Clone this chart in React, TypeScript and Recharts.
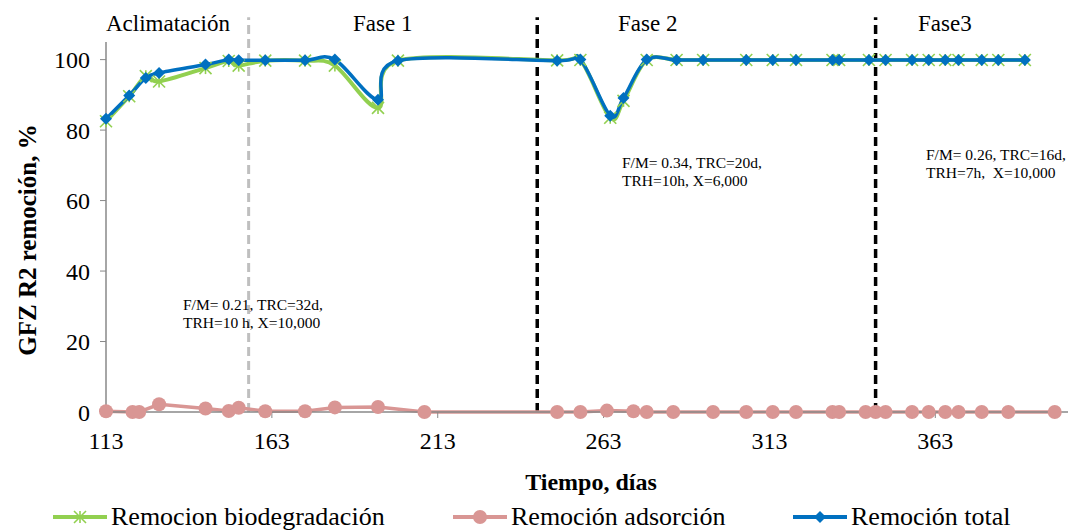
import { LineChart, Line, XAxis, YAxis, ReferenceLine } from "recharts";

// días y % de remoción
const totalDays = [113, 120, 125, 129, 143, 150, 153, 161, 173, 182, 195, 201, 249, 256, 265, 269, 276, 285, 293, 306, 314, 321, 332, 334, 343, 348, 356, 361, 366, 370, 377, 382, 390];
const totalValues = [83.2, 89.8, 94.8, 96.2, 98.6, 100, 99.8, 99.8, 99.8, 100, 88.6, 99.7, 99.7, 100, 84.1, 89.1, 100, 99.9, 99.9, 99.9, 99.9, 99.9, 99.9, 99.9, 99.9, 99.9, 99.9, 99.9, 99.9, 99.9, 99.9, 99.9, 99.9];
const bioValues = [82.5, 89.6, 95.3, 93.8, 97.6, 99.6, 98.3, 99.7, 99.7, 98.3, 86.3, 99.7, 99.8, 99.9, 83.5, 88.3, 99.9, 99.9, 99.9, 99.9, 99.9, 99.9, 99.9, 99.9, 99.9, 99.9, 99.9, 99.9, 99.9, 99.9, 99.9, 99.9, 99.9];
const adsDays = [113, 121, 123, 129, 143, 150, 153, 161, 173, 182, 195, 209, 249, 256, 264, 272, 276, 284, 296, 306, 314, 321, 332, 334, 342, 345, 348, 356, 361, 366, 370, 377, 385, 399];
const adsValues = [0.2, 0, 0, 2.2, 1.0, 0.3, 1.2, 0.2, 0.2, 1.3, 1.4, 0, 0, 0, 0.4, 0.2, 0, 0, 0, 0, 0, 0, 0, 0, 0, 0, 0, 0, 0, 0, 0, 0, 0, 0];

const xTicks = [113, 163, 213, 263, 313, 363];
const yTicks = [0, 20, 40, 60, 80, 100];
const phaseLineDays = [156, 243, 345];

const FONT = '"Liberation Serif", "Times New Roman", serif';
const GREEN = "#92D050";
const PINK = "#D99694";
const BLUE = "#0070C0";

const toPoints = (xs: number[], ys: number[]) => xs.map((x, i) => ({ x, y: ys[i] }));

// suavizado tipo Excel (Catmull-Rom)
const smoothCurve = (context: any) => {
  let pts: [number, number][] = [];
  return {
    areaStart() {},
    areaEnd() {},
    lineStart() {
      pts = [];
    },
    lineEnd() {
      const n = pts.length;
      if (!n) return;
      context.moveTo(pts[0][0], pts[0][1]);
      for (let i = 0; i < n - 1; i++) {
        const p0 = pts[Math.max(0, i - 1)];
        const p1 = pts[i];
        const p2 = pts[i + 1];
        const p3 = pts[Math.min(n - 1, i + 2)];
        context.bezierCurveTo(
          p1[0] + (p2[0] - p0[0]) / 6,
          p1[1] + (p2[1] - p0[1]) / 6,
          p2[0] - (p3[0] - p1[0]) / 6,
          p2[1] - (p3[1] - p1[1]) / 6,
          p2[0],
          p2[1]
        );
      }
    },
    point(x: number, y: number) {
      pts.push([x, y]);
    },
  };
};

const Diamond = (props: any) => {
  const { cx, cy, index } = props;
  const s = 6;
  return <path key={`dm-${index}`} d={`M${cx},${cy - s}L${cx + s},${cy}L${cx},${cy + s}L${cx - s},${cy}Z`} fill={BLUE} />;
};

const Star = (props: any) => {
  const { cx, cy, index } = props;
  const s = 6;
  return (
    <g key={`st-${index}`} stroke={GREEN} strokeWidth={1.6}>
      <line x1={cx - s} y1={cy - s} x2={cx + s} y2={cy + s} />
      <line x1={cx - s} y1={cy + s} x2={cx + s} y2={cy - s} />
      <line x1={cx} y1={cy - s} x2={cx} y2={cy + s} />
    </g>
  );
};

const Dot = (props: any) => {
  const { cx, cy, index } = props;
  return <circle key={`ci-${index}`} cx={cx} cy={cy} r={7} fill={PINK} />;
};

const textStyle = { position: "absolute" as const, fontFamily: FONT, color: "#000", whiteSpace: "nowrap" as const, lineHeight: 1 };

function LegendItem({ left, color, label, marker }: { left: number; color: string; label: string; marker: string }) {
  return (
    <div style={{ ...textStyle, left, top: 504, display: "flex", alignItems: "center", fontSize: 26 }}>
      <svg width={54} height={20} style={{ marginRight: 4 }}>
        <line x1={0} y1={10} x2={54} y2={10} stroke={color} strokeWidth={4} />
        {marker === "star" && <Star cx={27} cy={10} index={0} />}
        {marker === "circle" && <circle cx={27} cy={10} r={7} fill={color} />}
        {marker === "diamond" && <Diamond cx={27} cy={10} index={0} />}
      </svg>
      <span>{label}</span>
    </div>
  );
}

export default function App() {
  return (
    <div style={{ position: "absolute", left: 0, top: 0, width: 1070, height: 530, overflow: "hidden", background: "#fff" }}>
      <LineChart width={1070} height={500} margin={{ top: 42, right: 2, bottom: 0, left: 0 }}>
        <XAxis
          dataKey="x"
          type="number"
          domain={[113, 403]}
          ticks={xTicks}
          height={88}
          tickMargin={14}
          tick={{ fill: "#000", fontSize: 24, fontFamily: FONT }}
          axisLine={{ stroke: "#888", strokeWidth: 1.5 }}
          tickLine={{ stroke: "#888" }}
          label={{
            content: (p: any) => {
              const vb = p.viewBox;
              return (
                <text x={vb.x + vb.width / 2 + 4} y={482} textAnchor="middle" dominantBaseline="central" fontFamily={FONT} fontSize={24} fontWeight="bold" fill="#000">
                  Tiempo, días
                </text>
              );
            },
          }}
        />
        <YAxis
          type="number"
          domain={[0, 105]}
          ticks={yTicks}
          width={106}
          tickMargin={10}
          tick={{ fill: "#000", fontSize: 24, fontFamily: FONT }}
          axisLine={{ stroke: "#888", strokeWidth: 1.5 }}
          tickLine={{ stroke: "#888" }}
          label={{
            content: () => (
              <text x={27} y={240} transform="rotate(-90 27 240)" textAnchor="middle" dominantBaseline="central" fontFamily={FONT} fontSize={25} fontWeight="bold" fill="#000">
                GFZ R2 remoción, %
              </text>
            ),
          }}
        />
        {phaseLineDays.map((d, i) => (
          <ReferenceLine
            key={d}
            segment={[{ x: d, y: 0 }, { x: d, y: 112 }]}
            stroke={i === 0 ? "#BFBFBF" : "#000"}
            strokeWidth={i === 0 ? 3 : 3.5}
            strokeDasharray="9 5"
            ifOverflow="visible"
          />
        ))}
        <Line
          data={toPoints(adsDays, adsValues)}
          dataKey="y"
          name="Remoción adsorción"
          type="linear"
          stroke={PINK}
          strokeWidth={3.5}
          dot={Dot}
          activeDot={false}
          isAnimationActive={false}
        />
        <Line
          data={toPoints(totalDays, bioValues)}
          dataKey="y"
          name="Remocion biodegradación"
          type={smoothCurve as any}
          stroke={GREEN}
          strokeWidth={4}
          dot={Star}
          activeDot={false}
          isAnimationActive={false}
        />
        <Line
          data={toPoints(totalDays, totalValues)}
          dataKey="y"
          name="Remoción total"
          type={smoothCurve as any}
          stroke={BLUE}
          strokeWidth={3.5}
          dot={Diamond}
          activeDot={false}
          isAnimationActive={false}
        />
      </LineChart>

      {/* fases */}
      <div style={{ ...textStyle, left: 106, top: 12, fontSize: 23 }}>Aclimatación</div>
      <div style={{ ...textStyle, left: 353, top: 12, fontSize: 23 }}>Fase 1</div>
      <div style={{ ...textStyle, left: 618, top: 12, fontSize: 23 }}>Fase 2</div>
      <div style={{ ...textStyle, left: 918, top: 12, fontSize: 23 }}>Fase3</div>

      {/* condiciones de operación */}
      <div style={{ ...textStyle, left: 183, top: 296, fontSize: 15.5, lineHeight: "18px" }}>
        F/M= 0.21, TRC=32d,<br />TRH=10 h, X=10,000
      </div>
      <div style={{ ...textStyle, left: 622, top: 154, fontSize: 15.5, lineHeight: "18px" }}>
        F/M= 0.34, TRC=20d,<br />TRH=10h, X=6,000
      </div>
      <div style={{ ...textStyle, left: 926, top: 146, fontSize: 15.5, lineHeight: "18px" }}>
        F/M= 0.26, TRC=16d,<br />TRH=7h,&nbsp; X=10,000
      </div>

      <LegendItem left={53} color={GREEN} label="Remocion biodegradación" marker="star" />
      <LegendItem left={453} color={PINK} label="Remoción adsorción" marker="circle" />
      <LegendItem left={793} color={BLUE} label="Remoción total" marker="diamond" />
    </div>
  );
}
